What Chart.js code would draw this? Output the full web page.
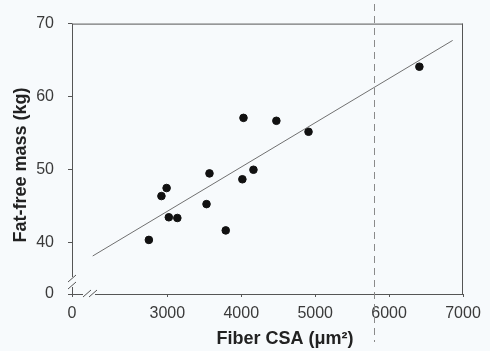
<!DOCTYPE html>
<html>
<head>
<meta charset="utf-8">
<script src="https://cdn.jsdelivr.net/npm/chart.js@4"></script>
<style>
  html, body { margin: 0; padding: 0; background: #f7fafc; }
  #wrap { width: 490px; height: 351px; }
</style>
</head>
<body>
<div id="wrap"><canvas id="chart" width="490" height="351"></canvas></div>
<script>
// valores
const fiberCSA = [2750, 2920, 2990, 3020, 3135, 3530, 3570, 3790, 4015, 4030, 4165, 4475, 4910, 6410];
const fatFreeMass = [40.4, 46.4, 47.5, 43.5, 43.4, 45.3, 49.5, 41.7, 48.7, 57.1, 50.0, 56.7, 55.2, 64.1];

// reta de regressão (pontas)
const fitX = [1990, 6860];
const fitY = [38.2, 67.7];

// eixos com quebra: o mínimo mostra "0"
const xTicks = [3000, 4000, 5000, 6000, 7000];
const yTicks = [40, 50, 60, 70];
const xBreakMin = 1710;
const xMax = 7000;
const yBreakMin = 33.0;
const yMax = 70;
const thresholdCSA = 5800;

const xTitle = 'Fiber CSA (\u03bcm\u00b2)';
const yTitle = 'Fat-free mass (kg)';

const FONT = '"Liberation Sans", Arial, Helvetica, sans-serif';

const points = fiberCSA.map((x, i) => ({ x: x, y: fatFreeMass[i] }));
const fitLine = fitX.map((x, i) => ({ x: x, y: fitY[i] }));

// desenha moldura, quebras, linha tracejada e títulos
const framePlugin = {
    id: 'frame',
    beforeDatasetsDraw(chart) {
        const ctx = chart.ctx;
        const a = chart.chartArea;
        const xs = chart.scales.x;
        ctx.save();
        ctx.strokeStyle = '#555';
        ctx.lineWidth = 1;
        ctx.beginPath();
        // topo e direita
        ctx.moveTo(a.left, a.top + 0.5);
        ctx.lineTo(a.right, a.top + 0.5);
        ctx.moveTo(a.right - 0.5, a.top);
        ctx.lineTo(a.right - 0.5, a.bottom);
        // eixo y com quebra
        ctx.moveTo(a.left + 0.5, a.top);
        ctx.lineTo(a.left + 0.5, a.bottom - 17);
        ctx.moveTo(a.left + 0.5, a.bottom - 7);
        ctx.lineTo(a.left + 0.5, a.bottom);
        // eixo x com quebra
        ctx.moveTo(a.left - 3, a.bottom + 0.5);
        ctx.lineTo(a.left + 11, a.bottom + 0.5);
        ctx.moveTo(a.left + 23, a.bottom + 0.5);
        ctx.lineTo(a.right, a.bottom + 0.5);
        // barras da quebra
        ctx.moveTo(a.left - 4, a.bottom - 12);
        ctx.lineTo(a.left + 4, a.bottom - 19);
        ctx.moveTo(a.left - 4, a.bottom - 5);
        ctx.lineTo(a.left + 4, a.bottom - 12);
        ctx.moveTo(a.left + 11, a.bottom + 3);
        ctx.lineTo(a.left + 19, a.bottom - 4);
        ctx.moveTo(a.left + 17, a.bottom + 3);
        ctx.lineTo(a.left + 25, a.bottom - 4);
        ctx.stroke();

        // linha tracejada vertical
        const px = Math.round(xs.getPixelForValue(thresholdCSA)) + 0.5;
        ctx.strokeStyle = '#8a8a8a';
        ctx.setLineDash([7, 5]);
        ctx.beginPath();
        ctx.moveTo(px, 4);
        ctx.lineTo(px, 342);
        ctx.stroke();
        ctx.restore();
    },
    afterDraw(chart) {
        const ctx = chart.ctx;
        ctx.save();
        ctx.fillStyle = '#222';
        ctx.font = 'bold 18px ' + FONT;
        ctx.textAlign = 'center';
        ctx.textBaseline = 'middle';
        ctx.fillText(xTitle, 285, 339);
        ctx.translate(21, 165);
        ctx.rotate(-Math.PI / 2);
        ctx.fillText(yTitle, 0, 0);
        ctx.restore();
    }
};

function breakTicks(min, list) {
    return function (scale) {
        scale.ticks = [{ value: min }].concat(list.map(v => ({ value: v })));
    };
}

const ctx = document.getElementById('chart').getContext('2d');
new Chart(ctx, {
    type: 'scatter',
    data: {
        datasets: [
            {
                label: 'fit',
                data: fitLine,
                showLine: true,
                borderColor: '#707070',
                borderWidth: 1,
                pointRadius: 0,
                fill: false
            },
            {
                label: 'subjects',
                data: points,
                backgroundColor: '#111',
                borderColor: '#111',
                pointRadius: 3.8,
                pointHoverRadius: 3.8
            }
        ]
    },
    options: {
        responsive: false,
        animation: false,
        layout: { padding: { top: 17, right: 27, left: 0, bottom: 0 } },
        plugins: {
            legend: { display: false },
            tooltip: { enabled: false }
        },
        scales: {
            x: {
                type: 'linear',
                min: xBreakMin,
                max: xMax,
                afterBuildTicks: breakTicks(xBreakMin, xTicks),
                afterFit(scale) { scale.height = 57; },
                border: { display: false },
                grid: { drawOnChartArea: false, drawTicks: true, tickLength: 3, color: '#555' },
                ticks: {
                    autoSkip: false,
                    maxRotation: 0,
                    padding: 7,
                    color: '#3a3a3a',
                    font: { family: FONT, size: 16 },
                    callback: v => (v === xBreakMin ? '0' : String(v))
                }
            },
            y: {
                type: 'linear',
                min: yBreakMin,
                max: yMax,
                afterBuildTicks: breakTicks(yBreakMin, yTicks),
                afterFit(scale) { scale.width = 72; },
                border: { display: false },
                grid: { drawOnChartArea: false, drawTicks: true, tickLength: 4, color: '#555' },
                ticks: {
                    autoSkip: false,
                    padding: 14,
                    color: '#3a3a3a',
                    font: { family: FONT, size: 16 },
                    callback: v => (v === yBreakMin ? '0' : String(v))
                }
            }
        }
    },
    plugins: [framePlugin]
});
</script>
</body>
</html>
